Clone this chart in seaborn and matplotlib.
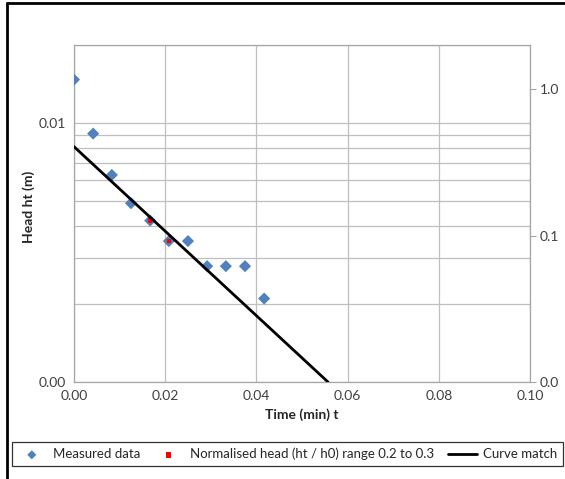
import matplotlib
matplotlib.use('Agg')
from matplotlib import pyplot as plt
from matplotlib.ticker import FixedLocator, FormatStrFormatter, NullFormatter, LogLocator
from matplotlib.lines import Line2D
import seaborn as sns
import pandas as pd

# 数据
time_min = [0.0000, 0.0042, 0.0083, 0.0125, 0.0167, 0.0208, 0.0250, 0.0292, 0.0333, 0.0375, 0.0417]
head_m = [0.0147, 0.0091, 0.0063, 0.0049, 0.0042, 0.0035, 0.0035, 0.0028, 0.0028, 0.0028, 0.0021]
norm_time = [0.0167, 0.0208]
norm_head = [0.0042, 0.0035]
fit_time = [0.0, 0.0557]
fit_head = [0.0081, 0.001]

measured = pd.DataFrame({'t': time_min, 'h': head_m})
normed = pd.DataFrame({'t': norm_time, 'h': norm_head})
fit = pd.DataFrame({'t': fit_time, 'h': fit_head})

sns.set_style('white')
plt.rcParams['font.family'] = ['Lato', 'DejaVu Sans']

fig = plt.figure(figsize=(5.65, 4.79), dpi=100)
ax = fig.add_axes([74 / 565, 97 / 479, 456 / 565, 337 / 479])
ax.set_yscale('log')

sns.scatterplot(data=measured, x='t', y='h', marker='D', s=38, color='#4F81BD',
                edgecolor='none', ax=ax, label='Measured data', zorder=3)
sns.scatterplot(data=normed, x='t', y='h', marker='s', s=10, color='#FF0000',
                edgecolor='none', ax=ax, label='Normalised head (ht / h0) range 0.2 to 0.3', zorder=4)
sns.lineplot(data=fit, x='t', y='h', color='black', linewidth=2, ax=ax, label='Curve match', zorder=5)

ax.set_xlim(0, 0.10)
ax.set_ylim(0.001, 0.02)
ax.set_xticks([0.0, 0.02, 0.04, 0.06, 0.08, 0.10])
ax.xaxis.set_major_formatter(FormatStrFormatter('%.2f'))
ax.yaxis.set_major_locator(FixedLocator([0.001, 0.01]))
ax.yaxis.set_major_formatter(FormatStrFormatter('%.2f'))
ax.yaxis.set_minor_locator(LogLocator(base=10, subs=range(2, 10)))
ax.yaxis.set_minor_formatter(NullFormatter())
ax.grid(True, which='both', axis='y', color='#BFBFBF', linewidth=0.9)
ax.grid(True, which='major', axis='x', color='#BFBFBF', linewidth=0.9)
ax.tick_params(axis='both', which='both', length=0, labelsize=10, labelcolor='#404040', pad=6)
for sp in ax.spines.values():
    sp.set_color('#A6A6A6')
    sp.set_linewidth(0.9)
ax.set_xlabel('Time (min) t', fontsize=10, fontweight='bold', labelpad=4)
ax.set_ylabel('Head ht (m)', fontsize=10, fontweight='bold')
ax.yaxis.set_label_coords(-0.085, 0.52)

handles, labels = ax.get_legend_handles_labels()
ax.get_legend().remove()

# 右侧归一化坐标轴
ax2 = ax.twinx()
ax2.set_yscale('log')
ax2.set_ylim(0.01, 2)
ax2.yaxis.set_major_locator(FixedLocator([0.01, 0.1, 1.0]))
ax2.yaxis.set_major_formatter(FormatStrFormatter('%.1f'))
ax2.yaxis.set_minor_locator(FixedLocator([]))
ax2.tick_params(axis='y', length=4, color='#A6A6A6', labelsize=10, labelcolor='#404040', pad=3)
for sp in ax2.spines.values():
    sp.set_visible(False)

leg = fig.legend(handles, labels, loc='center', ncol=3, mode='expand',
                 bbox_to_anchor=(12 / 565, 8 / 479, 551 / 565, 34 / 479),
                 fontsize=9.5, frameon=True, fancybox=False, edgecolor='black', markerscale=0.75,
                 handlelength=2.2, handletextpad=0.5, columnspacing=1.0, borderaxespad=0)
leg.get_frame().set_linewidth(0.9)
leg.legend_handles[1].set_sizes([16])

# 外框
fig.add_artist(Line2D([7 / 565, 7 / 565], [0, 1 - 3 / 479], transform=fig.transFigure, color='black', linewidth=2))
fig.add_artist(Line2D([7 / 565, 1], [1 - 3 / 479, 1 - 3 / 479], transform=fig.transFigure, color='black', linewidth=2))

plt.savefig('out.png', dpi=100)
